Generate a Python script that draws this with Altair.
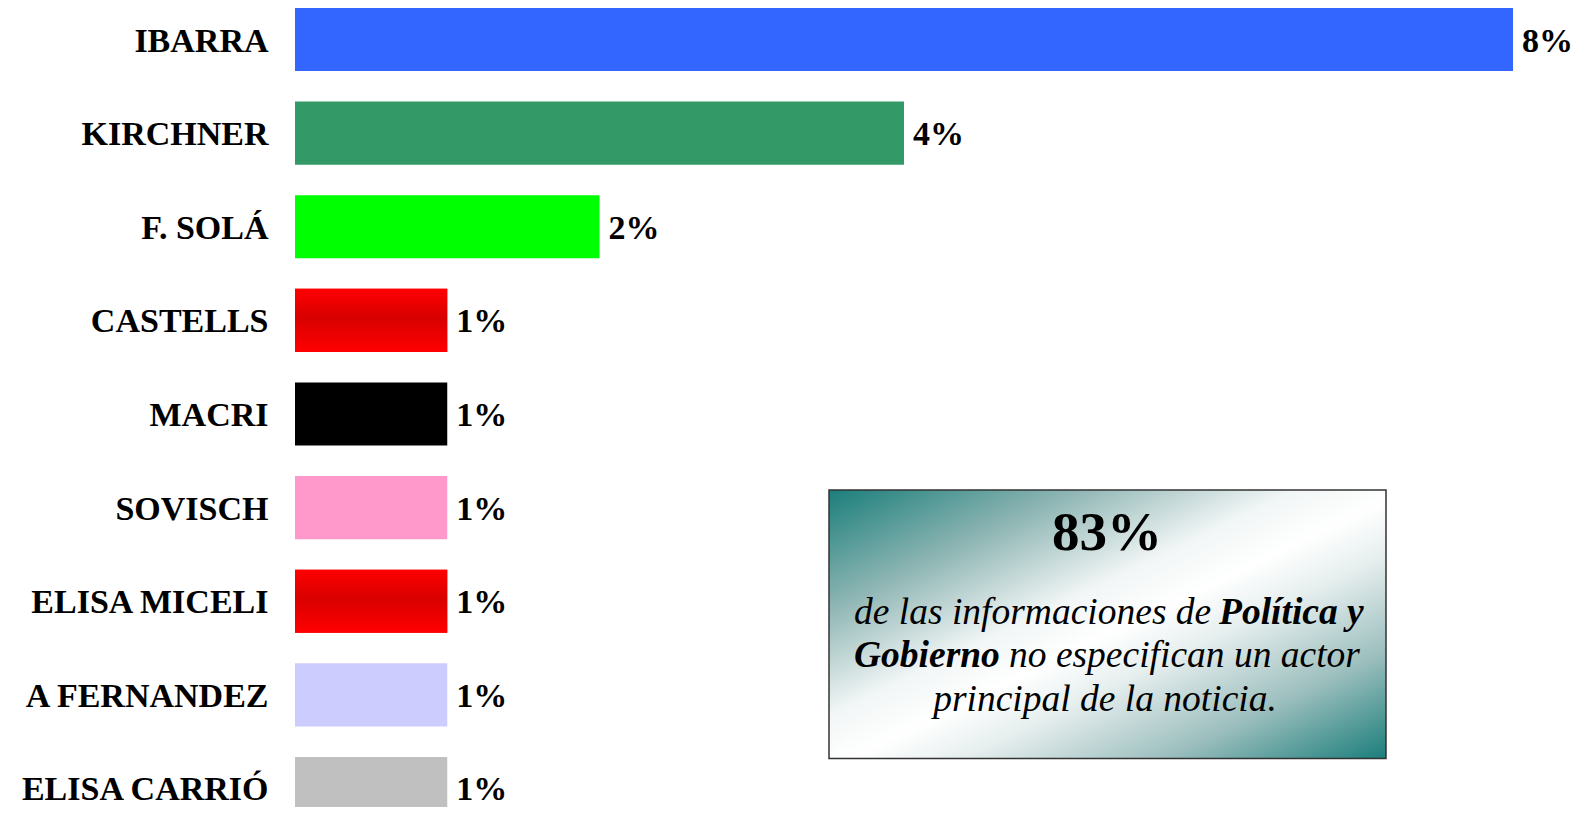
import altair as alt
import pandas as pd

names = ["IBARRA", "KIRCHNER", "F. SOLÁ", "CASTELLS", "MACRI", "SOVISCH",
         "ELISA MICELI", "A FERNANDEZ", "ELISA CARRIÓ"]
values = [8, 4, 2, 1, 1, 1, 1, 1, 1]
labels = ["8%", "4%", "2%", "1%", "1%", "1%", "1%", "1%", "1%"]
colors = ["#3366FF", "#339966", "#00FF00", "#FF0000", "#000000", "#FF99CC",
          "#FF0000", "#CCCCFF", "#C0C0C0"]
gradient_rows = ["CASTELLS", "ELISA MICELI"]

box_big = "83%"
box_line1 = ["de las informaciones de", "Política y"]
box_line2 = ["Gobierno", "no especifican un actor"]
box_line3 = "principal de la noticia."

df = pd.DataFrame({"name": names, "value": values, "label": labels})

FONT = "Liberation Serif"

yenc = alt.Y("name:N", sort=names, title=None,
             scale=alt.Scale(paddingInner=0.327, paddingOuter=0, range=[0, 812]),
             axis=alt.Axis(ticks=False, domain=False, labelPadding=27, labelOffset=2,
                           labelFont=FONT, labelFontSize=34, labelFontWeight="bold",
                           labelColor="black", labelLimit=400, grid=False))
xenc = alt.X("value:Q", scale=alt.Scale(domain=[0, 8]), axis=None)

bars = alt.Chart(df).mark_bar(strokeWidth=0).encode(
    y=yenc, x=xenc,
    color=alt.Color("name:N", scale=alt.Scale(domain=names, range=colors), legend=None),
)

red_grad = alt.LinearGradient(
    gradient="linear",
    stops=[alt.GradientStop(color="#FF0000", offset=0),
           alt.GradientStop(color="#D80000", offset=0.45),
           alt.GradientStop(color="#FF0000", offset=1)],
    x1=0, x2=0, y1=0, y2=1,
)
gbars = alt.Chart(df).transform_filter(
    alt.FieldOneOfPredicate(field="name", oneOf=gradient_rows)
).mark_bar(color=red_grad, strokeWidth=0).encode(y=alt.Y("name:N", sort=names), x="value:Q")

vtext = alt.Chart(df).mark_text(
    align="left", baseline="middle", dx=9, dy=2, font=FONT, fontSize=34,
    fontWeight="bold", color="black",
).encode(y=alt.Y("name:N", sort=names), x="value:Q", text="label:N")

one = pd.DataFrame({"k": [0]})
teal = "#1B7E7B"
box_grad = alt.LinearGradient(
    gradient="linear",
    stops=[alt.GradientStop(color=teal, offset=0),
           alt.GradientStop(color="#8DB5B3", offset=0.22),
           alt.GradientStop(color="#F2F6F6", offset=0.42),
           alt.GradientStop(color="#FFFFFF", offset=0.52),
           alt.GradientStop(color="#E6EEEE", offset=0.62),
           alt.GradientStop(color="#9CBFBE", offset=0.8),
           alt.GradientStop(color=teal, offset=1)],
    x1=0, y1=0, x2=1, y2=1,
)
box = alt.Chart(one).mark_rect(color=box_grad, stroke="#333333", strokeWidth=1.5).encode(
    x=alt.value(534), x2=alt.value(1091), y=alt.value(482), y2=alt.value(750.5))

def txt(s, x, y, align, weight="normal", style="italic", size=37.5):
    return alt.Chart(one).mark_text(
        text=s, align=align, baseline="alphabetic", font=FONT, fontSize=size,
        fontWeight=weight, fontStyle=style, color="black",
    ).encode(x=alt.value(x), y=alt.value(y))

t_big = txt(box_big, 812, 542, "center", weight="bold", style="normal", size=55)
t1a = txt(box_line1[0], 559, 616, "left")
t1b = txt(box_line1[1], 924, 616, "left", weight="bold")
t2a = txt(box_line2[0], 559, 659, "left", weight="bold")
t2b = txt(box_line2[1], 714, 659, "left")
t3 = txt(box_line3, 810, 703, "center")

chart = alt.layer(bars, gbars, vtext, box, t_big, t1a, t1b, t2a, t2b, t3).properties(
    width=1218, height=799, background="white",
    padding={"left": 287, "right": 66, "top": 0, "bottom": 0},
    autosize=alt.AutoSizeParams(type="none"),
).configure_view(stroke=None)

chart.save("out.html", embed_options={"renderer": "svg", "actions": False})
